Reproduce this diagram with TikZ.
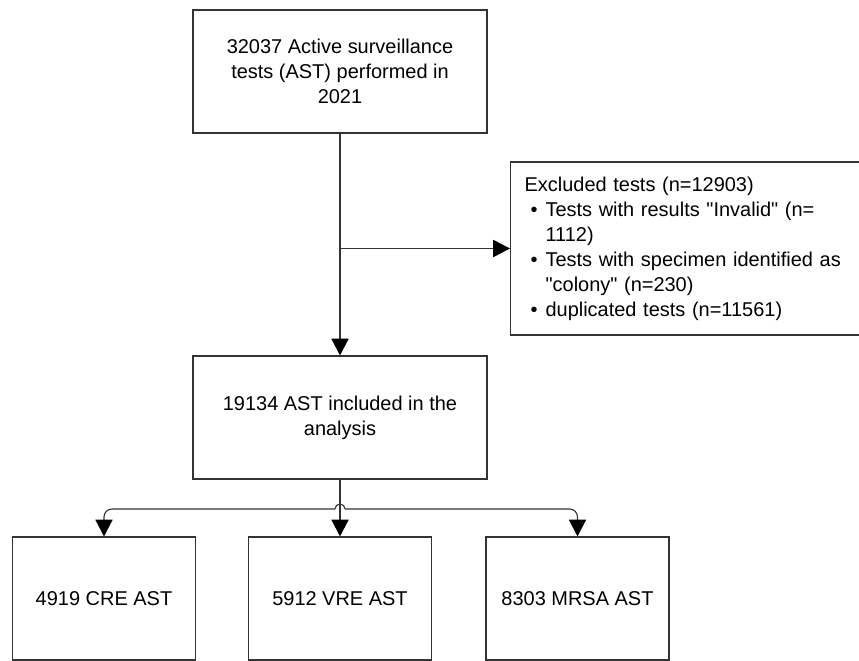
\documentclass[tikz,border=0pt]{standalone}
\usepackage{fontspec}
\setmainfont{Liberation Sans}[Ligatures=TeXOff]
\usetikzlibrary{arrows.meta}
\tikzset{
	box/.style={draw=black!80, line width=0.8pt, minimum width=7.35cm, minimum height=3.075cm,
		align=center, font=\fontsize{14.2}{17.8}\selectfont},
	smallbox/.style={box, minimum width=4.575cm},
	conn/.style={draw=black!80, line width=0.8pt, -{Triangle[width=0.43cm,length=0.42cm,color=black]}},
}
\def\bul#1{\hspace*{0.15cm}\textbullet\hspace{0.2cm}#1}
\def\cont#1{\hspace*{0.525cm}#1}
\begin{document}
\begin{tikzpicture}[x=0.025cm, y=-0.025cm]
\useasboundingbox (0, 0) rectangle (859, 661);
\clip (0, 0) rectangle (859, 661);

\node[box] (top) at (340, 71.5) {32037 Active surveillance\\tests (AST) performed in\\2021};
\node[box] (mid) at (340, 417.5) {19134 AST included in the\\analysis};
\node[box, anchor=west, minimum width=8.9cm, minimum height=4.325cm, inner xsep=0.35cm,
	text width=8.2cm, align=left] (excl) at (510, 248.5)
	{Excluded tests (n=12903)\\
	\bul{Tests with results "Invalid" (n=}\\
	\cont{1112)}\\
	\bul{Tests with specimen identified as}\\
	\cont{"colony" (n=230)}\\
	\bul{duplicated tests (n=11561)}};

\foreach \x/\name/\txt in {104/cre/4919 CRE AST, 340/vre/5912 VRE AST, 577.5/mrsa/8303 MRSA AST}
	\node[smallbox] (\name) at (\x, 598.5) {\txt};

\coordinate (branch) at (top.south |- excl.west);
\draw[conn] (top.south) -- (mid.north);
\draw[conn] (branch) -- (excl.west);

% split into three groups
\coordinate (split) at (340, 509);
\coordinate (hopL) at ([xshift=-0.125cm]split);
\coordinate (hopR) at ([xshift=0.125cm]split);
\draw[conn] (mid.south) -- (vre.north);
\draw[conn, rounded corners=0.2cm] (hopL) -| (cre.north);
\draw[conn, rounded corners=0.2cm] (hopR) -| (mrsa.north);
\draw[draw=black!80, line width=0.8pt] (hopL) arc (180:0:0.125cm);
\end{tikzpicture}
\end{document}
